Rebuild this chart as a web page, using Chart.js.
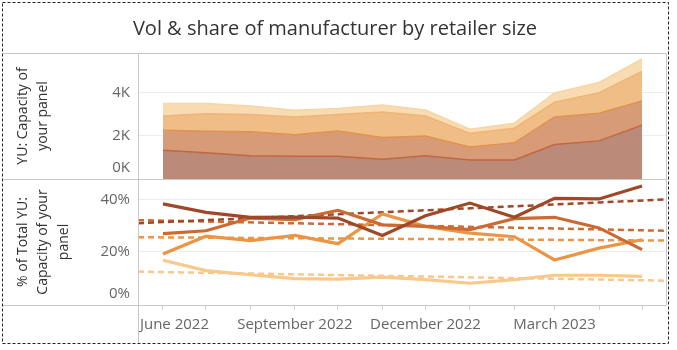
<!DOCTYPE html>
<html lang="en">
<head>
<meta charset="UTF-8">
<title>Vol & share of manufacturer by retailer size</title>
<script src="https://cdn.jsdelivr.net/npm/chart.js"></script>
<style>
  html, body { margin: 0; padding: 0; background: #fff; }
</style>
</head>
<body>
<canvas id="volShare" width="677" height="350"></canvas>

<script>
// months shown on the axis (one point per month)
const months = ['2022-06', '2022-07', '2022-08', '2022-09', '2022-10', '2022-11',
                '2022-12', '2023-01', '2023-02', '2023-03', '2023-04', '2023-05'];

// top pane: volume per retailer size (stacked, smallest size at the bottom)
const vol1 = [1340, 1220, 1080, 1060, 1060, 920, 1080, 880, 880, 1600, 1770, 2500];
const vol2 = [920, 1000, 1110, 1000, 1170, 1010, 920, 610, 800, 1280, 1280, 1120];
const vol3 = [660, 810, 810, 820, 760, 1180, 920, 630, 680, 690, 950, 1380];
const vol4 = [590, 470, 390, 310, 280, 320, 280, 190, 230, 430, 480, 570];

// bottom pane: % of total
const share1 = [38.5, 35.2, 33.3, 33.4, 33.0, 26.3, 33.9, 38.8, 33.3, 40.6, 40.4, 45.4];
const share2 = [27.0, 28.1, 33.0, 32.4, 36.0, 30.4, 29.8, 28.5, 32.8, 33.3, 29.2, 20.8];
const share3 = [19.1, 26.0, 24.3, 26.3, 23.1, 34.6, 29.8, 27.2, 25.8, 16.8, 21.4, 24.6];
const share4 = [16.7, 12.7, 11.1, 9.6, 9.4, 10.2, 9.2, 7.8, 9.2, 10.9, 10.9, 10.5];

// trend lines (dashed), value at left and right edge of the pane
const trendStart = [31.0, 32.2, 25.6, 12.3];
const trendEnd = [40.2, 28.1, 24.3, 8.8];

// axis ticks
const xTickMonths = ['2022-06', '2022-09', '2022-12', '2023-03'];
const xTickLabels = ['June 2022', 'September 2022', 'December 2022', 'March 2023'];
const topTicks = [0, 2000, 4000];
const topTickLabels = ['0K', '2K', '4K'];
const bottomTicks = [0, 20, 40];
const bottomTickLabels = ['0%', '20%', '40%'];

// colours
const lineColors = ['#9e4828', '#cd6932', '#eb9646', '#f8c88c'];
const areaFills = ['#bb8a79', '#d89b78', '#f0bd87', '#f8dbb0'];
const areaEdges = ['#c0673f', '#e0924f', '#f0b474', '#f6d6a6'];

// x is days since 1 June 2022, so months get their real width like a date axis
function dayOf(m) {
    const [y, mo] = m.split('-').map(Number);
    return (Date.UTC(y, mo - 1, 1) - Date.UTC(2022, 5, 1)) / 864e5;
}
const xMin = -17.4, xMax = 350.7;
const monthDays = months.map(dayOf);
const xTickDays = xTickMonths.map(dayOf);
const juneLabelDay = xTickDays[0] + 8;   // tableau pushes the first label inside the pane

// tableau lifts the bottom tick label ("0K", "0%") up into its pane
const topZeroLabelAt = 510;
const bottomZeroLabelAt = 3.6;

const vols = [vol1, vol2, vol3, vol4];
const shares = [share1, share2, share3, share4];
const datasets = [];

shares.forEach((s, i) => {
    datasets.push({
        label: 'share ' + (i + 1),
        data: s.map((v, j) => ({x: monthDays[j], y: v})),
        yAxisID: 'yBottom',
        borderColor: lineColors[i],
        borderWidth: 3.2,
        pointRadius: 0,
        tension: 0,
        fill: false
    });
});
shares.forEach((s, i) => {
    datasets.push({
        label: 'trend ' + (i + 1),
        data: [{x: xMin, y: trendStart[i]}, {x: xMax, y: trendEnd[i]}],
        yAxisID: 'yBottom',
        borderColor: lineColors[i],
        borderWidth: 2.5,
        borderDash: [6, 4],
        pointRadius: 0,
        fill: false
    });
});
vols.forEach((v, i) => {
    datasets.push({
        label: 'volume ' + (i + 1),
        data: v.map((val, j) => ({x: monthDays[j], y: val})),
        yAxisID: 'yTop',
        borderColor: areaEdges[i],
        backgroundColor: areaFills[i],
        borderWidth: 1.5,
        pointRadius: 0,
        tension: 0,
        fill: i === 0 ? 'origin' : '-1'
    });
});

// table frame like the tableau sheet
const tableLines = {
    id: 'tableLines',
    afterDraw(chart) {
        const {ctx, chartArea: a} = chart;
        const mid = chart.scales.yTop.bottom;
        const px = v => Math.round(v) + 0.5;
        ctx.save();
        ctx.strokeStyle = '#c8c8c8';
        ctx.lineWidth = 1;
        ctx.beginPath();
        [a.top, mid, a.bottom].forEach(y => {
            ctx.moveTo(3, px(y));
            ctx.lineTo(px(a.right), px(y));
        });
        ctx.moveTo(px(a.left), px(a.top));
        ctx.lineTo(px(a.left), 343);
        ctx.moveTo(px(a.right), px(a.top));
        ctx.lineTo(px(a.right), px(a.bottom));
        ctx.stroke();
        ctx.strokeStyle = '#222';
        ctx.setLineDash([3, 2]);
        ctx.strokeRect(2.5, 2.5, 666, 341);
        ctx.restore();
    }
};

Chart.defaults.font.family = '"Open Sans", sans-serif';

function gridColor(lifted) {
    return ctx => (ctx.tick && ctx.tick.value !== lifted) ? '#ececec' : 'rgba(0,0,0,0)';
}

new Chart(document.getElementById('volShare'), {
    type: 'line',
    data: {datasets: datasets},
    plugins: [tableLines],
    options: {
        responsive: false,
        animation: false,
        layout: {padding: {left: 4, right: 11, top: 0, bottom: 7}},
        plugins: {
            legend: {display: false},
            tooltip: {enabled: false},
            title: {
                display: true,
                text: 'Vol & share of manufacturer by retailer size',
                color: '#333',
                font: {size: 20, weight: 'normal'},
                padding: {top: 17, bottom: 12}
            }
        },
        scales: {
            x: {
                type: 'linear',
                min: xMin,
                max: xMax,
                afterBuildTicks: axis => {
                    axis.ticks = monthDays.map(d => ({value: d})).concat([{value: juneLabelDay}]);
                },
                afterFit: axis => { axis.height = 38; },
                grid: {
                    drawOnChartArea: false,
                    drawTicks: true,
                    tickLength: 5,
                    tickColor: ctx => (ctx.tick && monthDays.includes(ctx.tick.value)) ? '#d4d4d4' : 'rgba(0,0,0,0)'
                },
                border: {display: false},
                ticks: {
                    autoSkip: false,
                    maxRotation: 0,
                    padding: 6,
                    color: '#666',
                    font: {size: 15},
                    callback: value => {
                        if (value === juneLabelDay) return xTickLabels[0];
                        const i = xTickDays.indexOf(value);
                        return i > 0 ? xTickLabels[i] : '';
                    }
                }
            },
            yTop: {
                type: 'linear',
                position: 'left',
                stack: 'panes',
                stackWeight: 1,
                weight: 1,
                stacked: true,
                min: 0,
                max: 5850,
                afterBuildTicks: axis => {
                    axis.ticks = topTicks.map(v => ({value: v === 0 ? topZeroLabelAt : v}));
                },
                afterFit: axis => { axis.width = 134; },
                grid: {color: gridColor(topZeroLabelAt), drawTicks: false},
                border: {display: false},
                ticks: {
                    padding: 8,
                    color: '#666',
                    font: {size: 15},
                    callback: (value, i) => topTickLabels[i]
                },
                title: {
                    display: true,
                    text: ['YU: Capacity of', 'your panel'],
                    color: '#333',
                    font: {size: 14, lineHeight: 1.45},
                    padding: {top: 9, bottom: 0}
                }
            },
            yBottom: {
                type: 'linear',
                position: 'left',
                stack: 'panes',
                stackWeight: 1,
                weight: 0,
                min: -0.6,
                max: 48.1,
                afterBuildTicks: axis => {
                    axis.ticks = bottomTicks.map(v => ({value: v === 0 ? bottomZeroLabelAt : v}));
                },
                afterFit: axis => { axis.width = 134; },
                grid: {color: gridColor(bottomZeroLabelAt), drawTicks: false},
                border: {display: false},
                ticks: {
                    padding: 8,
                    color: '#666',
                    font: {size: 15},
                    callback: (value, i) => bottomTickLabels[i]
                },
                title: {
                    display: true,
                    text: ['% of Total YU:', 'Capacity of your', 'panel'],
                    color: '#333',
                    font: {size: 14, lineHeight: 1.45},
                    padding: {top: 9, bottom: 0}
                }
            }
        }
    }
});
</script>
</body>
</html>
